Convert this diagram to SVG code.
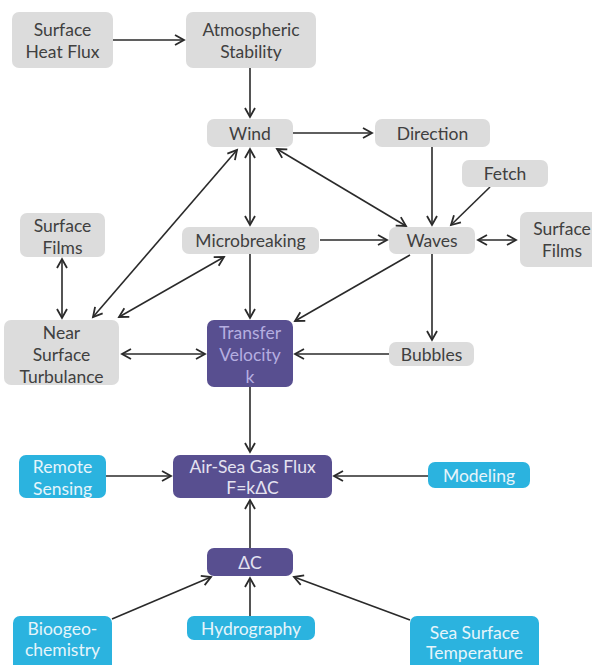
<svg xmlns="http://www.w3.org/2000/svg" width="592" height="665" viewBox="0 0 592 665">
<style>
.g rect{fill:#dcdcdc}
.c rect{fill:#2bb3df}
.p rect{fill:#584f90}
text{font-family:Lato,"Open Sans","DejaVu Sans",sans-serif;font-size:17.5px;text-anchor:middle}
.g text{fill:#404040}
.c text{fill:#e6f5fb}
.p text{fill:#e4e2f0}
.tv text{fill:#b5aee0}
#edges line{stroke:#2a2a2a;stroke-width:1.6;fill:none}
</style>
<defs>
<marker id="a" markerUnits="userSpaceOnUse" markerWidth="14" markerHeight="14" refX="10" refY="6" orient="auto-start-reverse" viewBox="0 0 14 12">
<path d="M1,1 L10,6 L1,11" fill="none" stroke="#2a2a2a" stroke-width="1.8"/>
</marker>
</defs>
<rect width="592" height="665" fill="#ffffff"/>
<g id="edges">
<line x1="113" y1="40" x2="184" y2="40" marker-end="url(#a)"/>
<line x1="250" y1="68" x2="250" y2="117" marker-end="url(#a)"/>
<line x1="293" y1="133" x2="372" y2="133" marker-end="url(#a)"/>
<line x1="432" y1="147" x2="432" y2="225" marker-end="url(#a)"/>
<line x1="490" y1="187" x2="451" y2="225" marker-end="url(#a)"/>
<line x1="478" y1="240" x2="516" y2="240" marker-start="url(#a)" marker-end="url(#a)"/>
<line x1="277" y1="149" x2="406" y2="226" marker-start="url(#a)" marker-end="url(#a)"/>
<line x1="250" y1="149" x2="250" y2="225" marker-start="url(#a)" marker-end="url(#a)"/>
<line x1="237" y1="150" x2="93" y2="317" marker-start="url(#a)" marker-end="url(#a)"/>
<line x1="320" y1="240" x2="387" y2="240" marker-end="url(#a)"/>
<line x1="224" y1="257" x2="119" y2="317" marker-start="url(#a)" marker-end="url(#a)"/>
<line x1="250" y1="254" x2="250" y2="318" marker-end="url(#a)"/>
<line x1="62" y1="259" x2="62" y2="318" marker-start="url(#a)" marker-end="url(#a)"/>
<line x1="122" y1="354" x2="205" y2="354" marker-start="url(#a)" marker-end="url(#a)"/>
<line x1="410" y1="255" x2="295" y2="321" marker-end="url(#a)"/>
<line x1="432" y1="254" x2="432" y2="340" marker-end="url(#a)"/>
<line x1="389" y1="354" x2="295" y2="354" marker-end="url(#a)"/>
<line x1="250" y1="387" x2="250" y2="452" marker-end="url(#a)"/>
<line x1="106" y1="476" x2="171" y2="476" marker-end="url(#a)"/>
<line x1="428" y1="476" x2="334" y2="476" marker-end="url(#a)"/>
<line x1="250" y1="548" x2="250" y2="500" marker-end="url(#a)"/>
<line x1="112" y1="619" x2="211" y2="577" marker-end="url(#a)"/>
<line x1="250" y1="616" x2="250" y2="578" marker-end="url(#a)"/>
<line x1="410" y1="620" x2="294" y2="577" marker-end="url(#a)"/>
</g>
<g id="surface-heat-flux" class="g"><rect x="12" y="12" width="101" height="56" rx="7"/><text x="62.5" y="36">Surface</text><text x="62.5" y="58">Heat Flux</text></g>
<g id="atmospheric-stability" class="g"><rect x="186" y="12" width="130" height="56" rx="7"/><text x="251" y="36">Atmospheric</text><text x="251" y="58">Stability</text></g>
<g id="wind" class="g"><rect x="207" y="119" width="86" height="28" rx="7"/><text x="250" y="139.5">Wind</text></g>
<g id="direction" class="g"><rect x="375" y="119" width="115" height="28" rx="7"/><text x="432.5" y="139.5">Direction</text></g>
<g id="fetch" class="g"><rect x="462" y="160" width="86" height="27" rx="7"/><text x="505" y="180">Fetch</text></g>
<g id="surface-films-right" class="g"><rect x="520" y="212" width="82" height="55" rx="7"/><text x="562" y="235">Surface</text><text x="562" y="257">Films</text></g>
<g id="microbreaking" class="g"><rect x="182" y="227" width="137" height="27" rx="7"/><text x="250.5" y="247">Microbreaking</text></g>
<g id="waves" class="g"><rect x="389" y="227" width="86" height="27" rx="7"/><text x="432" y="247">Waves</text></g>
<g id="surface-films-left" class="g"><rect x="20" y="213" width="85" height="44" rx="7"/><text x="62.5" y="232">Surface</text><text x="62.5" y="254">Films</text></g>
<g id="near-surface-turbulance" class="g"><rect x="4" y="320" width="115" height="65" rx="7"/><text x="61.5" y="339">Near</text><text x="61.5" y="361">Surface</text><text x="61.5" y="383">Turbulance</text></g>
<g id="transfer-velocity" class="p tv"><rect x="207" y="320" width="86" height="67" rx="7"/><text x="250" y="339">Transfer</text><text x="250" y="361">Velocity</text><text x="250" y="383">k</text></g>
<g id="bubbles" class="g"><rect x="389" y="342" width="85" height="24" rx="7"/><text x="431.5" y="360.5">Bubbles</text></g>
<g id="air-sea-gas-flux" class="p"><rect x="173" y="455" width="159" height="43" rx="7"/><text x="252.5" y="473">Air-Sea Gas Flux</text><text x="252.5" y="494">F=kΔC</text></g>
<g id="remote-sensing" class="c"><rect x="19" y="455" width="87" height="43" rx="7"/><text x="62.5" y="473">Remote</text><text x="62.5" y="495">Sensing</text></g>
<g id="modeling" class="c"><rect x="428" y="462" width="102" height="26" rx="7"/><text x="479" y="481.5">Modeling</text></g>
<g id="delta-c" class="p"><rect x="207" y="548" width="86" height="28" rx="7"/><text x="250" y="568.5">ΔC</text></g>
<g id="biogeochemistry" class="c"><rect x="13" y="616" width="99" height="55" rx="7"/><text x="62.5" y="635">Bioogeo-</text><text x="62.5" y="656">chemistry</text></g>
<g id="hydrography" class="c"><rect x="187" y="616" width="128" height="24" rx="7"/><text x="251" y="634.5">Hydrography</text></g>
<g id="sea-surface-temperature" class="c"><rect x="410" y="616" width="129" height="55" rx="7"/><text x="474.5" y="639">Sea Surface</text><text x="474.5" y="659">Temperature</text></g>
</svg>
